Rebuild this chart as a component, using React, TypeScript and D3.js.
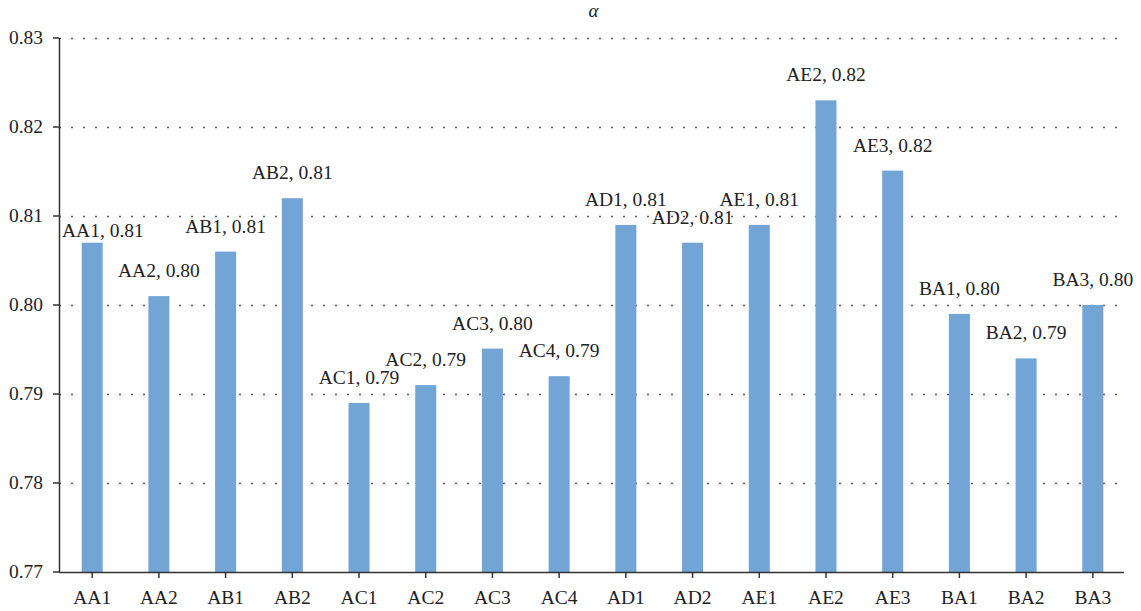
import React from "react";
import * as d3 from "d3";

const categories = ["AA1", "AA2", "AB1", "AB2", "AC1", "AC2", "AC3", "AC4", "AD1", "AD2", "AE1", "AE2", "AE3", "BA1", "BA2", "BA3"];
const alphaValues = [0.807, 0.801, 0.806, 0.812, 0.789, 0.791, 0.7951, 0.792, 0.809, 0.807, 0.809, 0.823, 0.8151, 0.799, 0.794, 0.8];
const yTicks = [0.77, 0.78, 0.79, 0.8, 0.81, 0.82, 0.83];
const title = "α";

const W = 1141;
const H = 611;
const margin = { left: 59, right: 15, top: 38, bottom: 39 };
const FONT = "Liberation Serif, serif";

export default function App() {
  const x = d3
    .scaleBand<string>()
    .domain(categories)
    .range([margin.left, W - margin.right])
    .paddingInner(0.685)
    .paddingOuter(0.34);
  const y = d3
    .scaleLinear()
    .domain([0.77, 0.83])
    .range([H - margin.bottom, margin.top]);

  const x0 = margin.left;
  const x1 = W - margin.right;
  const yBase = y(0.77);
  const txt: React.CSSProperties = { fontFamily: FONT };

  return (
    <svg
      width={W}
      height={H}
      style={{ position: "absolute", left: 0, top: 0, background: "#fff", fontFamily: FONT }}
    >
      {/* dotted horizontal gridlines */}
      {yTicks.slice(1).map((t) => (
        <line
          key={"g" + t}
          x1={x0}
          x2={x1 - 6}
          y1={Math.round(y(t)) + 0.5}
          y2={Math.round(y(t)) + 0.5}
          stroke="#555"
          strokeWidth={1.3}
          strokeDasharray="2 10"
        />
      ))}

      {/* bars */}
      {categories.map((c, i) => (
        <rect
          key={c}
          x={x(c)}
          y={y(alphaValues[i])}
          width={x.bandwidth()}
          height={yBase - y(alphaValues[i])}
          fill="#72a4d6"
        />
      ))}

      {/* value labels */}
      {categories.map((c, i) => {
        const cx = (x(c) as number) + x.bandwidth() / 2;
        const first = i === 0;
        return (
          <text
            key={"l" + c}
            x={first ? x0 + 3 : cx}
            y={y(alphaValues[i]) - (first ? 6 : 19)}
            textAnchor={first ? "start" : "middle"}
            fontSize={19.5}
            fill="#222"
            style={txt}
          >
            {`${c}, ${(Math.round(alphaValues[i] * 100) / 100).toFixed(2)}`}
          </text>
        );
      })}

      {/* y axis */}
      <line x1={x0 + 0.5} x2={x0 + 0.5} y1={y(0.83)} y2={yBase} stroke="#333" strokeWidth={1.5} />
      {yTicks.map((t) => (
        <g key={"y" + t}>
          <line x1={x0 - 6} x2={x0} y1={y(t)} y2={y(t)} stroke="#333" strokeWidth={1.5} />
          <text x={x0 - 16} y={y(t) + 6} textAnchor="end" fontSize={19.5} fill="#222" style={txt}>
            {t.toFixed(2)}
          </text>
        </g>
      ))}

      {/* x axis */}
      <line x1={x0} x2={W - 17} y1={yBase + 0.5} y2={yBase + 0.5} stroke="#333" strokeWidth={1.5} />
      {categories.map((c) => {
        const cx = (x(c) as number) + x.bandwidth() / 2;
        return (
          <g key={"x" + c}>
            <line x1={cx} x2={cx} y1={yBase} y2={yBase + 6} stroke="#333" strokeWidth={1.5} />
            <text x={cx} y={yBase + 32} textAnchor="middle" fontSize={19.5} fill="#222" style={txt}>
              {c}
            </text>
          </g>
        );
      })}

      {/* title */}
      <text x={(x0 + x1) / 2 + 1} y={17} textAnchor="middle" fontSize={19} fontStyle="italic" fill="#222" style={txt}>
        {title}
      </text>
    </svg>
  );
}
